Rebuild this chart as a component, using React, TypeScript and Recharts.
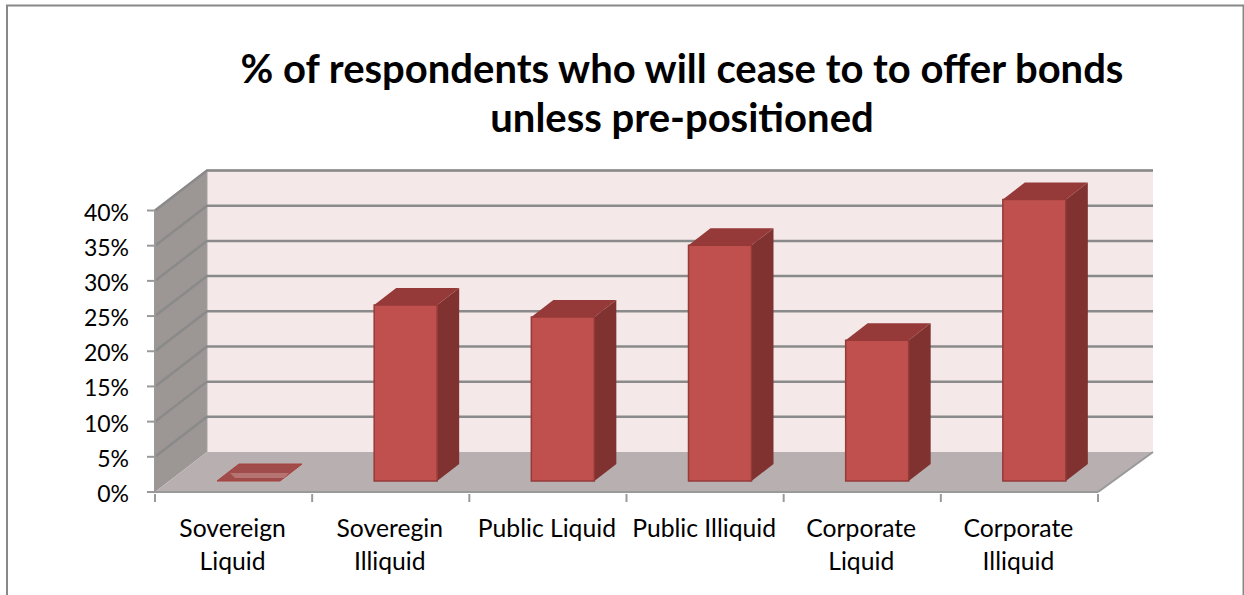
import { BarChart, Bar, XAxis, YAxis, CartesianGrid, ReferenceArea } from 'recharts';

const categories = [
  'Sovereign Liquid',
  'Soveregin Illiquid',
  'Public Liquid',
  'Public Illiquid',
  'Corporate Liquid',
  'Corporate Illiquid',
];
const categoryLines = [
  ['Sovereign', 'Liquid'],
  ['Soveregin', 'Illiquid'],
  ['Public Liquid'],
  ['Public Illiquid'],
  ['Corporate', 'Liquid'],
  ['Corporate', 'Illiquid'],
];
const shares = [0, 25, 23.3, 33.5, 20, 40];
const yTicks = [0, 5, 10, 15, 20, 25, 30, 35, 40];
const titleLines = ['% of respondents who will cease to to offer bonds', 'unless pre-positioned'];

const chartData = categories.map((name, i) => ({ name, share: shares[i] }));

const WIDTH = 1244;
const HEIGHT = 595;
const FONT = 'Lato, "Open Sans", sans-serif';

// Oblique offset of the back wall, and of the bars' front and back faces
const WALL_DX = 52;
const WALL_RIGHT_DX = 55;
const WALL_DY = -40;
const BAR_DX = 15;
const BAR_DY = -11;
const BAR_DEPTH_X = 22;
const BAR_DEPTH_Y = -17;

const pts = (...p: number[][]) => p.map(([x, y]) => `${x},${y}`).join(' ');

// Side wall, floor and back wall behind the plot
function Walls({ x, y, width, height }: any) {
  const left = x;
  const right = x + width;
  const top = y;
  const bottom = y + height;
  const edge = '#a3a3a3';
  return (
    <g>
      <polygon
        points={pts([left + WALL_DX, top + WALL_DY], [right + WALL_RIGHT_DX, top + WALL_DY], [right + WALL_RIGHT_DX, bottom + WALL_DY], [left + WALL_DX, bottom + WALL_DY])}
        fill="#f4e8e8"
      />
      <polygon
        points={pts([left, top], [left + WALL_DX, top + WALL_DY], [left + WALL_DX, bottom + WALL_DY], [left, bottom])}
        fill="#9c9694"
      />
      <polygon
        points={pts([left, bottom], [left + WALL_DX, bottom + WALL_DY], [right + WALL_RIGHT_DX, bottom + WALL_DY], [right, bottom])}
        fill="#b8afb0"
      />
      <polyline
        points={pts([left, top], [left + WALL_DX, top + WALL_DY], [right + WALL_RIGHT_DX, top + WALL_DY])}
        fill="none"
        stroke={edge}
        strokeWidth={2}
      />
      <line x1={left + WALL_DX} y1={top + WALL_DY} x2={left + WALL_DX} y2={bottom + WALL_DY} stroke={edge} strokeWidth={1} />
      <line x1={right} y1={bottom} x2={right + WALL_RIGHT_DX} y2={bottom + WALL_DY} stroke="#999999" strokeWidth={2} />
    </g>
  );
}

// Gridline wraps from the side wall onto the back wall
function GridLine({ x1, x2, y1 }: any) {
  if (y1 > 480) return <g />;
  return (
    <polyline
      points={pts([x1, y1], [x1 + WALL_DX, y1 + WALL_DY], [x2 + WALL_RIGHT_DX, y1 + WALL_DY])}
      fill="none"
      stroke="#8a8a8a"
      strokeWidth={2.5}
    />
  );
}

function Bar3D({ x, y, width, height }: any) {
  const l = x + BAR_DX;
  const r = l + width;
  const t = y + BAR_DY;
  const b = t + height;
  const dx = BAR_DEPTH_X;
  const dy = BAR_DEPTH_Y;
  if (height < 1) {
    // empty bar collapses to a flat tile on the floor
    return (
      <g>
        <polygon points={pts([l, b], [l + dx, b + dy], [r + dx, b + dy], [r, b])} fill="#a04c4a" stroke="#a8403e" strokeWidth={1} />
        <polygon points={pts([l + 13, b - 8], [r + 9, b - 8], [r + 4, b - 3], [l + 18, b - 3])} fill="#b57371" />
      </g>
    );
  }
  return (
    <g>
      <polygon points={pts([r, t], [r + dx, t + dy], [r + dx, b + dy], [r, b])} fill="#7f3230" />
      <polygon points={pts([l, t], [l + dx, t + dy], [r + dx, t + dy], [r, t])} fill="#953a38" />
      <rect x={l} y={t} width={width} height={height} fill="#c0504d" stroke="#963a38" strokeWidth={1.5} />
    </g>
  );
}

function CategoryTick({ x, y, index, plotWidth }: any) {
  const band = plotWidth / categories.length;
  const tickX = x - band / 2;
  const axisY = y - 6;
  return (
    <g>
      <line x1={tickX} y1={axisY} x2={tickX} y2={axisY + 8} stroke="#999999" strokeWidth={2} />
      {index === categories.length - 1 && (
        <line x1={tickX + band} y1={axisY} x2={tickX + band} y2={axisY + 8} stroke="#999999" strokeWidth={2} />
      )}
      {categoryLines[index].map((line, i) => (
        <text key={line} x={x - 1} y={axisY + 43 + i * 32.5} textAnchor="middle" fontSize={24.7} fontFamily={FONT} fill="#000">
          {line}
        </text>
      ))}
    </g>
  );
}

function PercentTick({ x, y, payload }: any) {
  return (
    <text x={x - 1} y={y + 10} textAnchor="end" fontSize={23} fontFamily={FONT} fill="#000">
      {payload.value}%
    </text>
  );
}

export default function App() {
  const margin = { top: 210.5, right: 146, bottom: 0, left: 0 };
  const plotWidth = WIDTH - 155 - margin.right;
  return (
    <div style={{ position: 'absolute', left: 0, top: 0, width: WIDTH, height: HEIGHT, background: '#fff', overflow: 'hidden' }}>
      <BarChart width={WIDTH} height={HEIGHT} data={chartData} margin={margin} barSize={63}>
        <rect x={7} y={5.5} width={1236.5} height={640} fill="none" stroke="#888888" strokeWidth={2} />
        <text textAnchor="middle" fontFamily={FONT} fontWeight={700} fontSize={40} fill="#000">
          {titleLines.map((line, i) => (
            <tspan key={line} x={682} y={83 + i * 49}>
              {line}
            </tspan>
          ))}
        </text>
        <XAxis
          dataKey="name"
          interval={0}
          height={103}
          tickLine={false}
          axisLine={{ stroke: '#999999', strokeWidth: 2 }}
          tick={(props: any) => <CategoryTick {...props} plotWidth={plotWidth} />}
        />
        <YAxis
          domain={[0, 40]}
          ticks={yTicks}
          tickSize={8}
          tickMargin={17}
          width={155}
          tickLine={{ stroke: '#999999', strokeWidth: 2 }}
          axisLine={{ stroke: '#999999', strokeWidth: 2 }}
          tick={PercentTick}
        />
        <ReferenceArea {...({ zIndex: -200 } as any)} x1={categories[0]} x2={categories[5]} y1={0} y2={40} shape={Walls} />
        <CartesianGrid vertical={false} horizontal={GridLine as any} />
        <Bar dataKey="share" isAnimationActive={false} shape={Bar3D} />
      </BarChart>
    </div>
  );
}
